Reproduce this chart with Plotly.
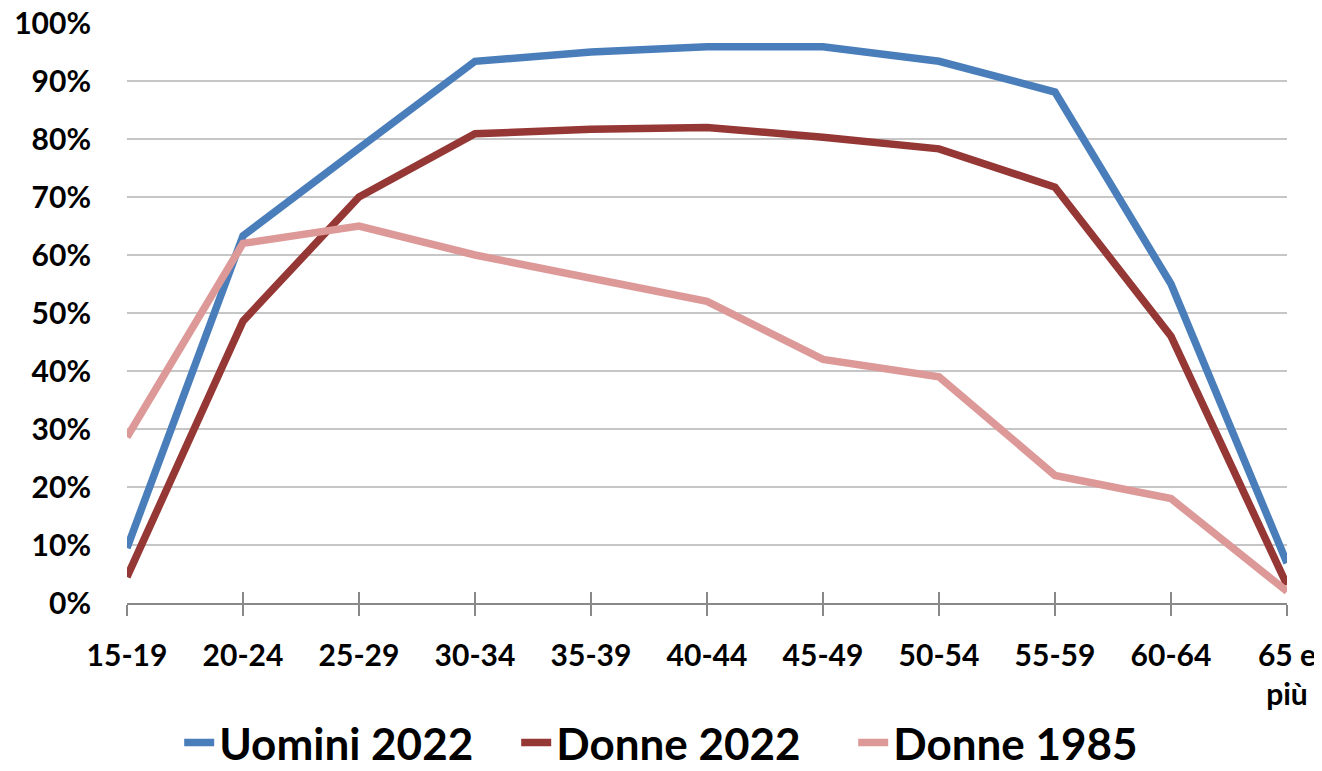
import plotly.graph_objects as go

categories = ["15-19", "20-24", "25-29", "30-34", "35-39", "40-44", "45-49", "50-54", "55-59", "60-64", "65 e<br>più"]
uomini_2022 = [9.5, 63.3, 78.4, 93.4, 95.0, 95.9, 95.9, 93.4, 88.1, 55.0, 6.9]
donne_2022 = [4.5, 48.6, 70.0, 80.9, 81.7, 82.0, 80.3, 78.3, 71.7, 46.0, 3.1]
donne_1985 = [28.6, 62.0, 65.0, 60.0, 56.0, 52.0, 42.0, 39.0, 22.0, 18.0, 2.0]
y_ticks = [0, 10, 20, 30, 40, 50, 60, 70, 80, 90, 100]
y_labels = [f"{v}%" for v in y_ticks]

series = [
    ("Uomini 2022", uomini_2022, "#4A7EBB"),
    ("Donne 2022", donne_2022, "#953735"),
    ("Donne 1985", donne_1985, "#DC9998"),
]

fig = go.Figure()
# helper trace so the overlaid axis (inner tick marks) is drawn
fig.add_trace(go.Scatter(x=categories, y=[None] * len(categories), xaxis="x2",
                         showlegend=False, hoverinfo="skip", mode="lines"))
for name, vals, color in series:
    fig.add_trace(go.Scatter(x=categories, y=vals, name=name, mode="lines",
                             line=dict(color=color, width=7.5)))

font_family = "Lato, Open Sans, sans-serif"
fig.update_layout(
    width=1322, height=771,
    paper_bgcolor="white", plot_bgcolor="white",
    margin=dict(l=119, r=43, t=15, b=176, autoexpand=False),
    font=dict(family=font_family, color="black"),
    showlegend=True,
    legend=dict(orientation="h", x=0.045, xanchor="left", y=-0.18, yanchor="top",
                font=dict(size=44, family=font_family, weight="bold"),
                itemwidth=30, entrywidth=292, entrywidthmode="pixels"),
    xaxis=dict(type="category", range=[0, 10], showgrid=False,
               showline=True, linecolor="#898989", linewidth=1.5,
               ticks="outside", ticklen=11, tickcolor="#898989", tickwidth=1.5,
               tickfont=dict(size=30, family=font_family, weight="bold"),
               ticklabelstandoff=14, zeroline=False, automargin=False,
               ticklabeloverflow="allow"),
    xaxis2=dict(type="category", range=[0, 10], overlaying="x", anchor="y",
                side="bottom", showgrid=False, showline=False, ticks="inside",
                ticklen=11, tickcolor="#898989", tickwidth=1.5,
                showticklabels=False, automargin=False),
    yaxis=dict(range=[0, 100], tickvals=y_ticks, ticktext=y_labels,
               showgrid=True, gridcolor="#C6C6C6", gridwidth=1.5,
               showline=False, zeroline=False, ticks="",
               tickfont=dict(size=30, family=font_family, weight="bold"),
               ticklabelstandoff=35, automargin=False,
               ticklabeloverflow="allow"),
)
fig.write_html("out.html")
